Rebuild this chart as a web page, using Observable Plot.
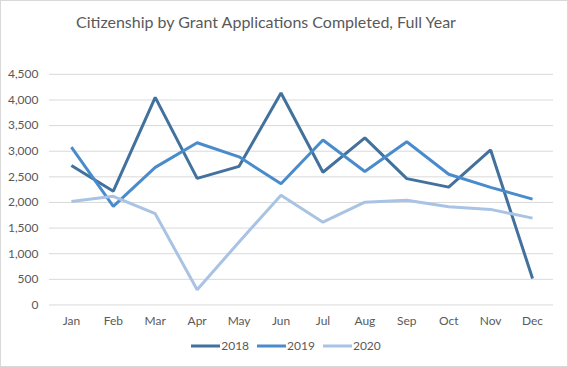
<!DOCTYPE html>
<html>
<head>
<meta charset="utf-8">
<script src="https://cdn.jsdelivr.net/npm/d3@7"></script>
<script src="https://cdn.jsdelivr.net/npm/@observablehq/plot@0.6"></script>
<style>
  html, body { margin: 0; padding: 0; background: #fff; }
  #frame { position: relative; width: 568px; height: 367px; box-sizing: border-box; border: 1px solid #d9d9d9; overflow: hidden; font-family: Lato, "Open Sans", sans-serif; }
  #title { position: absolute; left: 75px; top: 11px; width: 374px; text-align: center; font-size: 16px; color: #595959; white-space: nowrap; }
  #chart { position: absolute; left: -1px; top: -1px; }
  #legend { position: absolute; left: 0; top: 337px; width: 570px; display: flex; justify-content: center; gap: 8px; font-size: 12px; color: #595959; }
  .item { display: flex; align-items: center; }
  .item svg { margin-right: 1px; }
</style>
</head>
<body>
<div id="frame">
  <div id="title">Citizenship by Grant Applications Completed, Full Year</div>
  <div id="chart"></div>
  <div id="legend"></div>
</div>
<script>
const months = ["Jan","Feb","Mar","Apr","May","Jun","Jul","Aug","Sep","Oct","Nov","Dec"];
const series = ["2018","2019","2020"];
const values2018 = [2720, 2220, 4050, 2470, 2705, 4135, 2590, 3260, 2465, 2300, 3025, 515];
const values2019 = [3080, 1925, 2685, 3165, 2890, 2365, 3220, 2605, 3185, 2550, 2295, 2065];
const values2020 = [2020, 2120, 1780, 295, 1230, 2140, 1615, 2005, 2045, 1915, 1865, 1695];
const colors = ["#41719c", "#4a8bcc", "#a9c3e4"];
const yTicks = [0, 500, 1000, 1500, 2000, 2500, 3000, 3500, 4000, 4500];

const allValues = [values2018, values2019, values2020];
const data = [];
series.forEach((s, i) => months.forEach((m, j) => data.push({month: m, year: s, value: allValues[i][j]})));

const chart = Plot.plot({
  width: 568,
  height: 330,
  marginTop: 74,
  marginBottom: 25,
  marginLeft: 49,
  marginRight: 14,
  style: {fontFamily: "Lato, 'Open Sans', sans-serif", fontSize: "12px", color: "#595959", background: "transparent"},
  x: {type: "point", domain: months, padding: 0.5, label: null},
  y: {domain: [0, 4500], label: null},
  color: {domain: series, range: colors},
  marks: [
    Plot.gridY(yTicks, {stroke: "#d9d9d9", strokeOpacity: 1, strokeWidth: 1}),
    Plot.axisY(yTicks, {tickSize: 0, tickPadding: 11, tickFormat: d3.format(","), fill: "#595959", label: null}),
    Plot.axisX({tickSize: 0, tickPadding: 12, fill: "#595959", label: null}),
    Plot.line(data, {x: "month", y: "value", z: "year", stroke: "year", strokeWidth: 3, strokeLinejoin: "miter", strokeLinecap: "butt"})
  ]
});
document.getElementById("chart").appendChild(chart);

const legend = document.getElementById("legend");
series.forEach((s, i) => {
  const item = document.createElement("div");
  item.className = "item";
  item.innerHTML = `<svg width="29" height="10"><line x1="0" y1="5" x2="29" y2="5" stroke="${colors[i]}" stroke-width="3"/></svg><span>${s}</span>`;
  legend.appendChild(item);
});
</script>
</body>
</html>
